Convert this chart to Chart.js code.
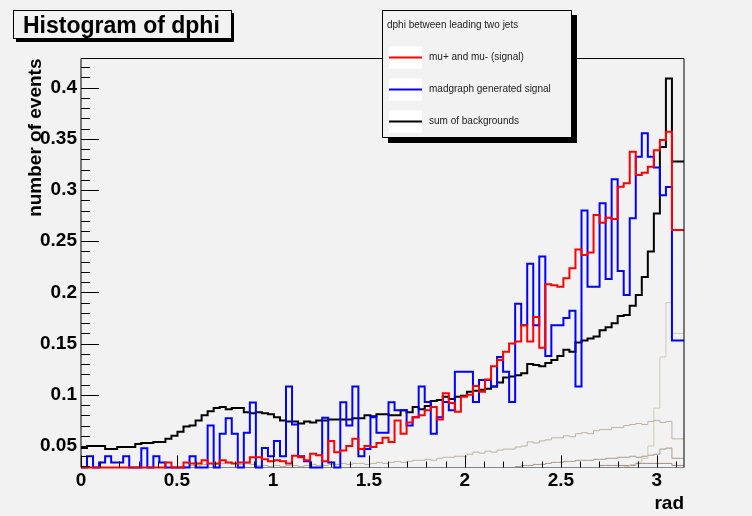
<!DOCTYPE html>
<html>
<head>
<meta charset="utf-8">
<title>Histogram of dphi</title>
<script src="https://cdn.jsdelivr.net/npm/chart.js@4.4.1/dist/chart.umd.min.js"></script>
<style>
  html, body { margin: 0; padding: 0; background: #f2f2f2; }
  canvas { display: block; }
</style>
</head>
<body>
<canvas id="dphichart" width="752" height="516"></canvas>
<script>
// Binning of the histograms: 100 bins between 0 and pi
const xMin = 0;
const xMax = Math.PI;
const nBins = 100;
const yMin = 0.029;
const yMax = 0.4285;

// Axis tick labels
const xTickValues = [0, 0.5, 1, 1.5, 2, 2.5, 3];
const yTickValues = [0.05, 0.1, 0.15, 0.2, 0.25, 0.3, 0.35, 0.4];

// mu+ and mu- (signal), red
const signalMuMu = [
  0, 0, 0, 0, 0, 0, 0, 0, 0, 0,
  0, 0, 0, 0, 0, 0.034, 0, 0, 0.034, 0.033,
  0.033, 0.036, 0.033, 0.033, 0.036, 0.034, 0.033, 0.034, 0.034, 0.039,
  0.039, 0.037, 0.035, 0.036, 0.035, 0.033, 0.0405, 0.039, 0.036, 0.0425,
  0.041, 0.035, 0.055, 0.044, 0.0457, 0.050, 0.057, 0.047, 0.050, 0.049,
  0.053, 0.058, 0.054, 0.075, 0.062, 0.073, 0.078, 0.080, 0.085, 0.088,
  0.076, 0.1015, 0.092, 0.0835, 0.098, 0.100, 0.1086, 0.103, 0.115, 0.128,
  0.134, 0.142, 0.150, 0.152, 0.168, 0.152, 0.176, 0.146, 0.208, 0.207,
  0.2056, 0.2138, 0.2235, 0.242, 0.2366, 0.239, 0.2756, 0.268, 0.273, 0.2717,
  0.3033, 0.3066, 0.3375, 0.3147, 0.317, 0.3228, 0.339, 0.349, 0.357, 0.261
];

// madgraph generated signal, blue
const madgraphSignal = [
  0, 0, 0.040, 0, 0.034, 0.040, 0.034, 0.034, 0.040, 0,
  0, 0.0477, 0, 0.040, 0.034, 0, 0, 0, 0, 0.040,
  0, 0, 0.070, 0, 0.062, 0.077, 0.062, 0, 0.063, 0.0925,
  0, 0.048, 0.040, 0.055, 0.040, 0.108, 0.071, 0.040, 0.035, 0,
  0, 0.0776, 0.034, 0, 0.0927, 0.070, 0.108, 0.040, 0.047, 0.078,
  0.063, 0.063, 0.0927, 0.085, 0.085, 0.070, 0.078, 0.108, 0.093, 0.062,
  0.078, 0.093, 0.085, 0.1226, 0.1226, 0.1226, 0.093, 0.1145, 0.1145, 0.108,
  0.137, 0.1226, 0.093, 0.189, 0.168, 0.228, 0.168, 0.235, 0.138, 0.168,
  0.168, 0.175, 0.182, 0.108, 0.280, 0.2056, 0.2056, 0.287, 0.213, 0.3105,
  0.221, 0.1975, 0.2724, 0.3326, 0.3554, 0.3326, 0.322, 0.295, 0.303, 0.153
];

// sum of backgrounds, black
const sumBackgrounds = [
  0.049, 0.048, 0.050, 0.050, 0.050, 0.047, 0.047, 0.049, 0.049, 0.049,
  0.052, 0.053, 0.053, 0.054, 0.054, 0.057, 0.060, 0.064, 0.069, 0.070,
  0.075, 0.080, 0.084, 0.087, 0.088, 0.086, 0.087, 0.087, 0.083, 0.082,
  0.083, 0.082, 0.081, 0.078, 0.075, 0.074, 0.074, 0.072, 0.074, 0.073,
  0.075, 0.075, 0.076, 0.076, 0.076, 0.076, 0.077, 0.077, 0.080, 0.079,
  0.081, 0.081, 0.080, 0.080, 0.085, 0.083, 0.088, 0.086, 0.089, 0.094,
  0.095, 0.098, 0.096, 0.098, 0.099, 0.103, 0.104, 0.105, 0.106, 0.108,
  0.112, 0.117, 0.118, 0.119, 0.121, 0.130, 0.129, 0.128, 0.131, 0.134,
  0.138, 0.144, 0.142, 0.151, 0.153, 0.155, 0.157, 0.163, 0.166, 0.170,
  0.177, 0.178, 0.187, 0.1975, 0.215, 0.240, 0.277, 0.342, 0.409, 0.328
];

// individual background components (faint lines)
const backgroundA = [
  0, 0, 0, 0, 0, 0, 0, 0, 0, 0,
  0, 0, 0, 0, 0, 0, 0, 0, 0.030, 0.031,
  0.031, 0.032, 0.033, 0.032, 0.033, 0.034, 0.033, 0.032, 0.033, 0.032,
  0.031, 0.031, 0.030, 0.031, 0.030, 0.031, 0.031, 0.030, 0.031, 0.032,
  0.031, 0.031, 0.032, 0.032, 0.033, 0.032, 0.033, 0.033, 0.032, 0.033,
  0.034, 0.033, 0.034, 0.035, 0.034, 0.035, 0.036, 0.036, 0.037, 0.036,
  0.038, 0.039, 0.039, 0.040, 0.040, 0.042, 0.044, 0.043, 0.045, 0.044,
  0.046, 0.047, 0.047, 0.049, 0.050, 0.054, 0.053, 0.055, 0.056, 0.058,
  0.058, 0.060, 0.059, 0.062, 0.063, 0.062, 0.065, 0.066, 0.066, 0.068,
  0.068, 0.070, 0.071, 0.072, 0.071, 0.074, 0.075, 0.073, 0.074, 0.057
];
const backgroundB = [
  0, 0, 0, 0, 0, 0, 0, 0, 0, 0,
  0, 0, 0, 0, 0, 0, 0, 0, 0, 0,
  0, 0, 0, 0, 0, 0, 0, 0, 0, 0,
  0, 0, 0, 0, 0, 0, 0, 0, 0, 0,
  0, 0, 0, 0, 0, 0, 0, 0, 0, 0,
  0, 0, 0, 0, 0, 0, 0, 0, 0, 0,
  0, 0, 0, 0, 0, 0, 0, 0, 0, 0,
  0, 0, 0, 0, 0, 0, 0, 0, 0, 0,
  0, 0, 0, 0, 0, 0, 0, 0, 0, 0,
  0, 0.030, 0.032, 0.034, 0.038, 0.050, 0.087, 0.137, 0.190, 0.160
];
const backgroundC = [
  0, 0, 0, 0, 0, 0, 0, 0, 0, 0,
  0, 0, 0, 0, 0, 0, 0, 0, 0, 0,
  0, 0, 0, 0, 0, 0, 0, 0, 0, 0,
  0, 0, 0, 0, 0, 0, 0, 0, 0, 0,
  0, 0, 0, 0, 0, 0, 0, 0, 0, 0,
  0, 0, 0, 0, 0, 0, 0, 0, 0, 0,
  0, 0, 0, 0, 0, 0, 0, 0, 0, 0,
  0, 0, 0, 0.030, 0.031, 0.031, 0.032, 0.032, 0.033, 0.034,
  0.034, 0.035, 0.035, 0.036, 0.036, 0.036, 0.037, 0.037, 0.038, 0.038,
  0.039, 0.039, 0.040, 0.039, 0.040, 0.041, 0.042, 0.047, 0.048, 0.038
];
const backgroundD = [
  0, 0, 0, 0, 0, 0, 0, 0, 0, 0,
  0, 0, 0, 0, 0, 0, 0, 0, 0, 0,
  0, 0, 0, 0, 0, 0, 0, 0, 0, 0,
  0, 0, 0, 0, 0, 0, 0, 0, 0, 0,
  0, 0, 0, 0, 0, 0, 0, 0, 0, 0,
  0, 0, 0, 0, 0, 0, 0, 0, 0, 0,
  0, 0, 0, 0, 0, 0, 0, 0, 0, 0,
  0, 0, 0, 0, 0, 0, 0, 0, 0, 0,
  0, 0, 0, 0, 0, 0, 0, 0.031, 0.031, 0.031,
  0.031, 0.031, 0.031, 0.033, 0.033, 0.033, 0.033, 0.033, 0.033, 0.031
];

const legendTitle = 'dphi between leading two jets';
const fontFamily = "'Liberation Sans', Arial, Helvetica, sans-serif";

Chart.defaults.font.family = fontFamily;
Chart.defaults.color = '#000';

// turn bin contents into step points (left bin edges + closing point at xMax)
function histPoints(values, clampToFloor) {
    const w = (xMax - xMin) / nBins;
    const pts = values.map((v, i) => ({
        x: xMin + i * w,
        y: clampToFloor ? Math.max(v, yMin) : v
    }));
    pts.push({x: xMax, y: pts[pts.length - 1].y});
    return pts;
}

function histDataset(label, values, color, width, order, clampToFloor) {
    return {
        label: label,
        data: histPoints(values, clampToFloor),
        borderColor: color,
        borderWidth: width,
        stepped: 'after',
        pointRadius: 0,
        fill: false,
        order: order,
        clip: clampToFloor ? {left: 0, top: 0, right: 0, bottom: 2} : 0
    };
}

// plain number labels, like ROOT (0.4 not 0.40)
const plainLabel = (value) => String(+Number(value).toFixed(3));

// Frame, ROOT style inner ticks, title box and legend
const rootFrame = {
    id: 'rootFrame',
    beforeDatasetsDraw(chart) {
        const {ctx, chartArea: a} = chart;
        ctx.save();
        ctx.strokeStyle = '#7b8894';
        ctx.lineWidth = 1;
        ctx.beginPath();
        ctx.moveTo(a.left, a.bottom);
        ctx.lineTo(a.right, a.bottom);
        ctx.stroke();
        ctx.restore();
    },
    afterDatasetsDraw(chart) {
        const {ctx, chartArea: a, scales: {x, y}} = chart;
        ctx.save();
        ctx.strokeStyle = '#000';
        ctx.lineWidth = 1;
        ctx.beginPath();
        ctx.moveTo(a.left, a.bottom);
        ctx.lineTo(a.left, a.top);
        ctx.lineTo(a.right, a.top);
        ctx.lineTo(a.right, a.bottom);
        ctx.stroke();

        // y ticks, minor every 0.01
        ctx.beginPath();
        for (let k = 3; k <= 42; k++) {
            const py = Math.round(y.getPixelForValue(k / 100)) + 0.5;
            const len = (k % 5 === 0) ? 18 : 9;
            ctx.moveTo(a.left, py);
            ctx.lineTo(a.left + len, py);
        }
        // x ticks, minor every 0.1
        for (let k = 0; k <= 31; k++) {
            const px = Math.round(x.getPixelForValue(k / 10)) + 0.5;
            const len = (k % 5 === 0) ? 12 : 6;
            ctx.moveTo(px, a.bottom);
            ctx.lineTo(px, a.bottom - len);
        }
        ctx.stroke();
        ctx.restore();
    },
    afterDraw(chart) {
        const ctx = chart.ctx;
        ctx.save();

        // title box
        ctx.fillStyle = '#000';
        ctx.fillRect(16, 13, 218, 29);
        ctx.fillStyle = '#f2f2f2';
        ctx.fillRect(13.5, 10.5, 218, 28);
        ctx.strokeStyle = '#000';
        ctx.lineWidth = 1;
        ctx.strokeRect(13.5, 10.5, 218, 28);
        ctx.fillStyle = '#000';
        ctx.font = 'bold 23px ' + fontFamily;
        ctx.textBaseline = 'alphabetic';
        ctx.textAlign = 'left';
        ctx.fillText('Histogram of dphi', 23, 33);

        // legend box with shadow
        ctx.fillStyle = '#000';
        ctx.fillRect(388, 15, 189, 128);
        ctx.fillStyle = '#f2f2f2';
        ctx.fillRect(382.5, 10.5, 189, 127);
        ctx.strokeRect(382.5, 10.5, 189, 127);

        ctx.fillStyle = '#222';
        ctx.font = '10px ' + fontFamily;
        ctx.textBaseline = 'middle';
        ctx.fillText(legendTitle, 387, 25);

        chart.data.datasets.slice(0, 3).forEach((ds, i) => {
            const cy = 57.5 + i * 32;
            ctx.fillStyle = '#fff';
            ctx.fillRect(389, cy - 11, 33, 22);
            ctx.strokeStyle = ds.borderColor;
            ctx.lineWidth = 2;
            ctx.beginPath();
            ctx.moveTo(389, cy);
            ctx.lineTo(422, cy);
            ctx.stroke();
            ctx.fillStyle = '#222';
            ctx.fillText(ds.label, 429, cy);
        });
        ctx.restore();
    }
};

const dphiConfig = {
    type: 'line',
    data: {
        datasets: [
            histDataset('mu+ and mu- (signal)', signalMuMu, '#ff0000', 2, 0, true),
            histDataset('madgraph generated signal', madgraphSignal, '#0000ff', 2, 1, true),
            histDataset('sum of backgrounds', sumBackgrounds, '#000000', 2, 2, true),
            histDataset('background 1', backgroundA, '#bdb2a2', 1, 3, false),
            histDataset('background 2', backgroundB, '#d2c9b6', 1, 4, false),
            histDataset('background 3', backgroundC, '#ab9a88', 1, 5, false),
            histDataset('background 4', backgroundD, '#a88a80', 1, 6, false)
        ]
    },
    options: {
        responsive: false,
        animation: false,
        layout: {
            padding: {left: 0, top: 58.5, right: 68, bottom: 0}
        },
        plugins: {
            legend: {display: false},
            tooltip: {enabled: false},
            title: {display: false}
        },
        scales: {
            x: {
                type: 'linear',
                min: xMin,
                max: xMax,
                grid: {display: false, drawTicks: false},
                border: {display: false},
                afterBuildTicks: (scale) => {
                    scale.ticks = xTickValues.map(v => ({value: v}));
                },
                afterFit: (scale) => { scale.height = 48.5; },
                ticks: {
                    autoSkip: false,
                    maxRotation: 0,
                    padding: 2,
                    callback: plainLabel,
                    font: {size: 19, weight: 'bold'}
                },
                title: {
                    display: true,
                    text: 'rad',
                    align: 'end',
                    padding: {top: 0, bottom: 1},
                    font: {size: 19, weight: 'bold'}
                }
            },
            y: {
                min: yMin,
                max: yMax,
                grid: {display: false, drawTicks: false},
                border: {display: false},
                afterBuildTicks: (scale) => {
                    scale.ticks = yTickValues.map(v => ({value: v}));
                },
                afterFit: (scale) => { scale.width = 81; },
                ticks: {
                    autoSkip: false,
                    padding: 4,
                    callback: plainLabel,
                    font: {size: 19, weight: 'bold'}
                },
                title: {
                    display: true,
                    text: 'number of events',
                    align: 'end',
                    padding: {top: 24.5, bottom: 0},
                    font: {size: 19, weight: 'bold'}
                }
            }
        }
    },
    plugins: [rootFrame]
};

const dphiChart = new Chart(
    document.getElementById('dphichart'),
    dphiConfig
);
</script>
</body>
</html>
